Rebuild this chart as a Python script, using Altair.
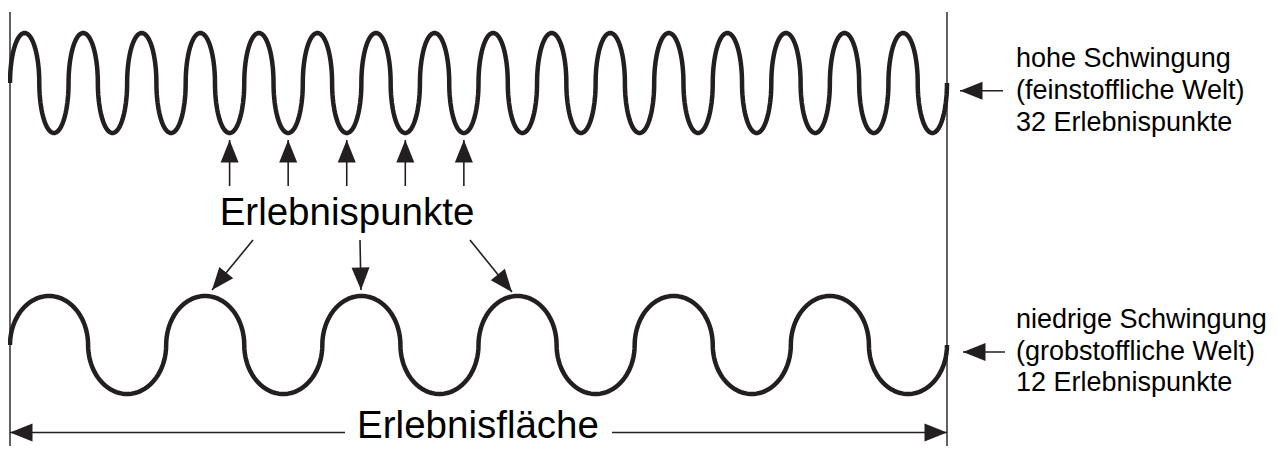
import altair as alt
import numpy as np
import pandas as pd

# ---------------- data (page pixels) ----------------
field_left = 10          # start of the "Erlebnisfläche"
field_right = 947        # end of the "Erlebnisfläche"

wave_names = ["hohe Schwingung", "niedrige Schwingung"]
wave_extrema = [32, 12]          # number of Erlebnispunkte (peaks + troughs)
wave_center = [83, 345]
wave_amplitude = [50, 49]

boundary_x = [10, 947]
boundary_top = 12
boundary_bottom = 454

# upward arrows point at troughs 4..8 of the high wave
up_troughs = [4, 5, 6, 7, 8]
up_tail_y = 186
up_tip_y = 140

# arrows from the label down to peaks of the low wave
down_tail_x = [253, 360, 470]
down_tail_y = [240, 240, 240]
down_tip_x = [212, 361, 512]
down_tip_y = [290, 290, 292]

# arrows pointing at the waves from the side labels
side_tail_x = [1003, 1005]
side_tip_x = [960, 963]
side_y = [90.7, 352]

side_text = ["hohe Schwingung", "(feinstoffliche Welt)", "32 Erlebnispunkte",
             "niedrige Schwingung", "(grobstoffliche Welt)", "12 Erlebnispunkte"]
side_text_x = 1016
side_text_base = [66.5, 99, 130.5, 328, 359.5, 391]

big_text = ["Erlebnispunkte", "Erlebnisfläche"]
big_text_x = [347, 478]
big_text_base = [225, 438]

dim_y = 432.5
dim_gap = [345, 612]

INK = "#231f20"
FONT = "Liberation Sans"

# ---------------- build tables ----------------
rows = []
for name, n, c, a in zip(wave_names, wave_extrema, wave_center, wave_amplitude):
    half = (field_right - field_left) / n
    t = np.linspace(0, np.pi, 40)
    idx = 0
    for k in range(n):
        sign = 1 if k % 2 == 0 else -1
        xs = field_left + k * half + half / 2 * (1 - np.cos(t))
        ys = c - sign * a * np.sin(t)
        for xv, yv in zip(xs, ys):
            rows.append({"wave": name, "i": idx, "x": xv, "y": yv})
            idx += 1
waves = pd.DataFrame(rows)

half_hi = (field_right - field_left) / wave_extrema[0]
up_x = [field_left + half_hi * (2 * k - 1 + 0.5) for k in up_troughs]

arrows = []
for xv in up_x:
    arrows.append({"x": xv, "y": up_tail_y, "x2": xv, "y2": up_tip_y})
for a in zip(down_tail_x, down_tail_y, down_tip_x, down_tip_y):
    arrows.append({"x": a[0], "y": a[1], "x2": a[2], "y2": a[3]})
for a in zip(side_tail_x, side_tip_x, side_y):
    arrows.append({"x": a[0], "y": a[2], "x2": a[1], "y2": a[2]})
arrows.append({"x": dim_gap[0], "y": dim_y, "x2": field_left, "y2": dim_y})
arrows.append({"x": dim_gap[1], "y": dim_y, "x2": field_right, "y2": dim_y})
arrows = pd.DataFrame(arrows)
arrows["angle"] = (np.degrees(np.arctan2(arrows["x2"] - arrows["x"],
                                         -(arrows["y2"] - arrows["y"]))) + 360) % 360

bounds = pd.DataFrame({"x": boundary_x, "y": [boundary_top] * 2, "y2": [boundary_bottom] * 2})
side = pd.DataFrame({"text": side_text, "x": side_text_x, "y": side_text_base})
big = pd.DataFrame({"text": big_text, "x": big_text_x, "y": big_text_base})

W, H = 1262, 438
xs = alt.Scale(domain=[8, 8 + W], nice=False, zero=False)
ys = alt.Scale(domain=[8, 8 + H], nice=False, zero=False, reverse=True)
X = lambda f="x": alt.X(f"{f}:Q", scale=xs, axis=None)
Y = lambda f="y": alt.Y(f"{f}:Q", scale=ys, axis=None)

boundary = alt.Chart(bounds).mark_rule(color="#3a3a3a", strokeWidth=1.6).encode(
    x=X(), y=Y(), y2="y2:Q")

wave_layer = alt.Chart(waves).mark_line(color=INK, strokeWidth=4.5, strokeJoin="round",
                                        strokeCap="butt").encode(
    x=X(), y=Y(), detail="wave:N", order="i:Q")

shafts = alt.Chart(arrows).mark_rule(color=INK, strokeWidth=1.6).encode(
    x=X(), y=Y(), x2="x2:Q", y2="y2:Q")

heads = alt.Chart(arrows).mark_point(shape="M0,0L-0.4,1L0.4,1Z", filled=True, size=2025,
                                     color=INK, opacity=1, strokeWidth=0).encode(
    x=X("x2"), y=Y("y2"), angle=alt.Angle("angle:Q", scale=None))

side_labels = alt.Chart(side).mark_text(font=FONT, fontSize=27, align="left",
                                        baseline="alphabetic", color="#000000").encode(
    x=X(), y=Y(), text="text:N")

big_labels = alt.Chart(big).mark_text(font=FONT, fontSize=38.5, align="center",
                                      baseline="alphabetic", color="#000000").encode(
    x=X(), y=Y(), text="text:N")

chart = alt.layer(boundary, wave_layer, shafts, heads, side_labels, big_labels).properties(
    width=W, height=H, padding=0, background="white",
    autosize=alt.AutoSizeParams(type="none")
).configure_view(stroke=None)

chart.save("out.html", embed_options={"renderer": "svg", "actions": False})
